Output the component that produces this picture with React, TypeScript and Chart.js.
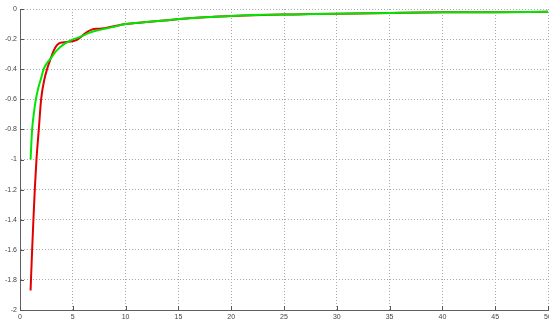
import React, { useEffect, useRef } from "react";
import { Chart, registerables } from "chart.js";

Chart.register(...registerables);

const redX = [1, 1.15, 1.27, 1.4, 1.56, 1.78, 2, 2.3, 2.56, 2.9, 3.2, 3.5, 3.7, 4.0, 4.4, 4.8, 5.2, 5.6, 6.0, 6.4, 6.8, 7.2, 7.6, 8, 8.5, 9, 10, 12, 14, 16, 18, 20, 23, 26, 30, 35, 40, 45, 50];
const redY = [-1.87, -1.6, -1.4, -1.2, -1.0, -0.8, -0.6, -0.47, -0.4, -0.33, -0.275, -0.24, -0.228, -0.222, -0.22, -0.216, -0.21, -0.195, -0.172, -0.15, -0.137, -0.132, -0.131, -0.127, -0.12, -0.113, -0.1, -0.087, -0.0745, -0.062, -0.0535, -0.046, -0.0395, -0.036, -0.031, -0.0265, -0.022, -0.021, -0.019];

const greenX = [1, 1.15, 1.3, 1.5, 1.75, 2, 2.24, 2.5, 2.9, 3.3, 3.7, 4.2, 4.8, 5.5, 6, 6.5, 7, 8, 9, 10, 12, 14, 16, 18, 20, 23, 26, 30, 35, 40, 45, 50];
const greenY = [-1.0, -0.8, -0.7, -0.6, -0.52, -0.46, -0.4, -0.365, -0.33, -0.29, -0.26, -0.232, -0.208, -0.19, -0.175, -0.16, -0.148, -0.132, -0.116, -0.1, -0.086, -0.074, -0.062, -0.053, -0.046, -0.039, -0.036, -0.031, -0.026, -0.022, -0.021, -0.019];

const xTicks = [0, 5, 10, 15, 20, 25, 30, 35, 40, 45, 50];
const yTicks = [0, -0.2, -0.4, -0.6, -0.8, -1, -1.2, -1.4, -1.6, -1.8, -2];

const innerTicks = {
  id: "innerTicks",
  afterDraw(chart: any) {
    const ctx = chart.ctx;
    const xs = chart.scales.x;
    const ys = chart.scales.y;
    const a = chart.chartArea;
    ctx.save();
    ctx.strokeStyle = "#555555";
    ctx.lineWidth = 1;
    ctx.beginPath();
    xTicks.forEach((v) => {
      const px = Math.round(xs.getPixelForValue(v)) + 0.5;
      ctx.moveTo(px, a.bottom);
      ctx.lineTo(px, a.bottom - 4);
    });
    yTicks.forEach((v) => {
      const py = Math.round(ys.getPixelForValue(v)) + 0.5;
      ctx.moveTo(a.left, py);
      ctx.lineTo(a.left + 4, py);
    });
    ctx.stroke();
    ctx.restore();
  },
};

export default function App() {
  const ref = useRef<HTMLCanvasElement>(null);
  useEffect(() => {
    document.body.style.margin = "0";
    const chart = new Chart(ref.current!, {
      type: "line",
      data: {
        datasets: [
          {
            label: "green",
            data: greenX.map((x, i) => ({ x, y: greenY[i] })),
            borderColor: "#00e600",
            borderWidth: 2,
            pointRadius: 0,
            cubicInterpolationMode: "monotone",
            fill: false,
          },
          {
            label: "red",
            data: redX.map((x, i) => ({ x, y: redY[i] })),
            borderColor: "#e00000",
            borderWidth: 2,
            pointRadius: 0,
            cubicInterpolationMode: "monotone",
            fill: false,
          },
        ],
      },
      options: {
        responsive: false,
        animation: false,
        layout: { padding: { top: 9, right: 1, left: 0, bottom: 0 } },
        plugins: { legend: { display: false }, tooltip: { enabled: false } },
        scales: {
          x: {
            type: "linear",
            min: 0,
            max: 50,
            afterBuildTicks(s: any) {
              s.ticks = xTicks.map((v) => ({ value: v }));
            },
            afterFit(s: any) {
              s.height = 13;
              s.paddingLeft = 0;
              s.paddingRight = 0;
            },
            ticks: {
              font: { family: "Liberation Sans", size: 7 },
              color: "#444444",
              padding: 3,
              maxRotation: 0,
              autoSkip: false,
            },
            grid: { color: "#a8a8a8", drawTicks: false, lineWidth: 1 },
            border: { display: true, color: "#606060", width: 1, dash: [1, 2] },
          },
          y: {
            type: "linear",
            min: -2,
            max: 0,
            afterBuildTicks(s: any) {
              s.ticks = yTicks.map((v) => ({ value: v }));
            },
            afterFit(s: any) {
              s.width = 20;
              s.paddingTop = 0;
              s.paddingBottom = 0;
            },
            ticks: {
              font: { family: "Liberation Sans", size: 7 },
              color: "#444444",
              padding: 3,
              autoSkip: false,
              callback: (v: any) => String(Math.round(Number(v) * 10) / 10),
            },
            grid: { color: "#a8a8a8", drawTicks: false, lineWidth: 1 },
            border: { display: true, color: "#606060", width: 1, dash: [1, 2] },
          },
        },
      },
      plugins: [innerTicks],
    });
    return () => chart.destroy();
  }, []);
  return (
    <div style={{ position: "fixed", left: 0, top: 0, width: 549, height: 323, background: "#fff" }}>
      <canvas ref={ref} width={549} height={323} />
    </div>
  );
}
